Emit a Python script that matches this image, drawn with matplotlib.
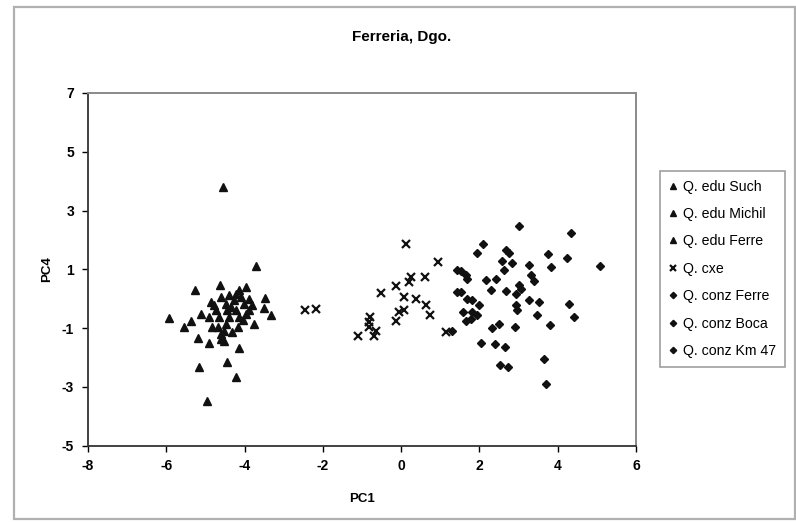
import matplotlib
matplotlib.use("Agg")
import matplotlib.pyplot as plt
from matplotlib.patches import Rectangle

plt.rcParams["font.family"] = ["Liberation Sans", "DejaVu Sans"]
plt.rcParams["axes.unicode_minus"] = False

# ---- data (PC1, PC4) ----
edu_such_x = [-4.55, -3.71, -5.26, -4.63, -3.97, -4.14, -3.47, -3.50, -3.33, -5.93,
              -4.86, -4.73, -4.65]
edu_such_y = [3.81, 1.10, 0.31, 0.45, 0.40, 0.31, 0.02, -0.32, -0.55, -0.65,
              -0.12, -0.40, -0.63]
edu_michil_x = [-5.37, -5.54, -5.12, -5.20, -4.92, -4.14, -4.61, -3.75, -4.69, -4.61,
                -4.52, -4.48, -4.39, -4.35, -4.27, -4.22]
edu_michil_y = [-0.77, -0.95, -0.52, -1.35, -1.52, -1.69, -1.37, -0.86, -0.97, -1.20,
                -1.09, -0.86, -0.63, -0.29, -0.06, 0.17]
edu_ferre_x = [-4.45, -5.16, -4.22, -4.97, -4.09, -4.01, -3.97, -3.88, -3.80, -4.05,
               -4.18, -4.31, -4.52, -4.82, -4.90, -4.39, -4.61, -4.48, -4.22, -3.88,
               -4.78, -4.14, -4.44]
edu_ferre_y = [-2.17, -2.34, -2.68, -3.48, 0.05, -0.17, -0.51, -0.40, -0.23, -0.74,
               -0.97, -1.14, -1.43, -0.97, -0.63, 0.11, 0.05, -0.17, -0.40, 0.00,
               -0.23, -0.63, -0.40]
cxe_x = [0.12, 0.95, 0.25, 0.20, 0.61, -0.12, -0.52, 0.08, 0.39, 0.63, 0.73, 0.08,
         -0.05, -0.14, -2.45, -2.18, -0.80, -0.82, -0.83, -0.65, -0.69, -1.10, 1.14]
cxe_y = [1.85, 1.25, 0.74, 0.57, 0.72, 0.42, 0.19, 0.05, 0.00, -0.23, -0.57, -0.38,
         -0.46, -0.77, -0.40, -0.35, -0.61, -0.80, -0.97, -1.09, -1.26, -1.26, -1.14]
conz_ferre_x = [3.01, 4.33, 2.10, 1.95, 2.67, 2.76, 3.74, 4.23, 5.08, 2.57, 2.83,
                2.63, 3.82, 3.27, 3.31, 3.40, 1.43, 1.43]
conz_ferre_y = [2.47, 2.22, 1.85, 1.54, 1.65, 1.56, 1.51, 1.40, 1.11, 1.28, 1.22,
                0.97, 1.08, 1.14, 0.79, 0.60, 0.97, 0.22]
conz_boca_x = [1.52, 1.65, 1.69, 2.18, 2.42, 2.29, 2.67, 3.01, 2.93, 3.06, 3.27,
               3.52, 4.29, 4.42, 1.52, 1.69, 1.82, 1.99]
conz_boca_y = [0.94, 0.79, 0.68, 0.65, 0.68, 0.28, 0.26, 0.45, 0.17, 0.34, -0.04,
               -0.12, -0.17, -0.61, 0.22, 0.00, -0.06, -0.20]
conz_km47_x = [1.58, 1.82, 1.95, 1.65, 1.78, 2.93, 2.97, 3.46, 2.91, 3.80, 2.33,
               2.50, 1.31, 2.04, 2.40, 2.66, 3.65, 2.52, 2.73, 3.71]
conz_km47_y = [-0.44, -0.46, -0.57, -0.77, -0.69, -0.23, -0.40, -0.57, -0.95, -0.91,
               -1.01, -0.88, -1.09, -1.52, -1.56, -1.66, -2.05, -2.25, -2.32, -2.91]

x_ticks = [-8, -6, -4, -2, 0, 2, 4, 6]
y_ticks = [-5, -3, -1, 1, 3, 5, 7]

fig = plt.figure(figsize=(7.96, 5.22), dpi=100)
fig.patch.set_facecolor("white")
ax = fig.add_axes([88 / 796, 1 - 445.5 / 522, 548 / 796, 352.5 / 522])

# outer chart frame
fig.patches.append(Rectangle((14 / 796, 1 - 519 / 522), 781 / 796, 512 / 522,
                             transform=fig.transFigure, fill=False,
                             edgecolor="#b0b0b0", lw=1.6))

tri = dict(marker="^", ms=5.5, color="#111111", ls="none")
dia = dict(marker="D", ms=4.3, color="#111111", ls="none")
ax.plot(edu_such_x, edu_such_y, label="Q. edu Such", **tri)
ax.plot(edu_michil_x, edu_michil_y, label="Q. edu Michil", **tri)
ax.plot(edu_ferre_x, edu_ferre_y, label="Q. edu Ferre", **tri)
ax.plot(cxe_x, cxe_y, marker="x", ms=6, mew=1.6, color="#111111", ls="none",
        label="Q. cxe")
ax.plot(conz_ferre_x, conz_ferre_y, label="Q. conz Ferre", **dia)
ax.plot(conz_boca_x, conz_boca_y, label="Q. conz Boca", **dia)
ax.plot(conz_km47_x, conz_km47_y, label="Q. conz Km 47", **dia)

ax.set_xlim(-8, 6)
ax.set_ylim(-5, 7)
ax.set_xticks(x_ticks)
ax.set_yticks(y_ticks)
ax.tick_params(direction="out", length=4, width=1, labelsize=10, pad=6)
for lab in ax.get_xticklabels() + ax.get_yticklabels():
    lab.set_fontweight("bold")
for side in ("top", "right"):
    ax.spines[side].set_color("#8a8a8a")
    ax.spines[side].set_linewidth(1.4)
for side in ("left", "bottom"):
    ax.spines[side].set_color("#333333")
    ax.spines[side].set_linewidth(1.3)

ax.set_xlabel("PC1", fontsize=9.5, fontweight="bold", labelpad=14)
ax.set_ylabel("PC4", fontsize=9.5, fontweight="bold", labelpad=6)
fig.text(402 / 796, 1 - 37 / 522, "Ferreria, Dgo.", ha="center", va="center",
         fontsize=11, fontweight="bold")

leg = fig.legend(loc="upper left", bbox_to_anchor=(660 / 796, 1 - 171 / 522),
                 borderaxespad=0, frameon=True, fancybox=False, fontsize=10.2,
                 handlelength=0.7, handletextpad=0.35, labelspacing=0.95,
                 borderpad=0.6, markerscale=0.75)
leg.get_frame().set_edgecolor("#888888")
leg.get_frame().set_linewidth(1.2)

fig.savefig("out.png", dpi=100)
